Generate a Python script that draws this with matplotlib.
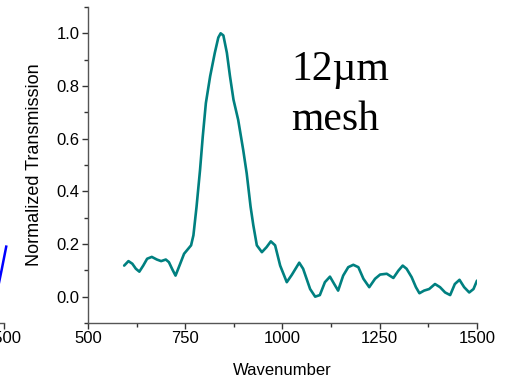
import numpy as np
import matplotlib.pyplot as plt
from matplotlib.ticker import MultipleLocator

# Espectro de transmissão da malha de 12 um
wavenumber = [593, 604, 614, 623, 632, 642, 652, 664, 677, 688, 700, 708, 717,
              725, 737, 747, 756, 765, 771, 779, 788, 795, 803, 814, 826, 835,
              841, 848, 857, 865, 874, 886, 899, 908, 918, 925, 934, 947, 959,
              970, 981, 994, 1011, 1024, 1043, 1053, 1071, 1084, 1096, 1109,
              1122, 1133, 1143, 1156, 1169, 1182, 1195, 1208, 1223, 1238, 1251,
              1268, 1285, 1298, 1309, 1319, 1332, 1343, 1352, 1364, 1377, 1392,
              1405, 1418, 1431, 1443, 1455, 1467, 1480, 1491, 1500]
transmission = [0.118, 0.135, 0.125, 0.106, 0.095, 0.118, 0.144, 0.151, 0.141,
                0.135, 0.141, 0.131, 0.103, 0.080, 0.125, 0.163, 0.179, 0.195,
                0.233, 0.341, 0.481, 0.608, 0.735, 0.837, 0.926, 0.984, 1.0,
                0.992, 0.926, 0.837, 0.748, 0.672, 0.557, 0.468, 0.341, 0.271,
                0.195, 0.169, 0.188, 0.210, 0.195, 0.118, 0.055, 0.083, 0.129,
                0.106, 0.029, 0.0, 0.006, 0.055, 0.076, 0.048, 0.023, 0.080,
                0.112, 0.121, 0.112, 0.068, 0.036, 0.068, 0.084, 0.087, 0.071,
                0.099, 0.118, 0.106, 0.074, 0.036, 0.013, 0.023, 0.029, 0.048,
                0.036, 0.016, 0.006, 0.048, 0.064, 0.036, 0.016, 0.029, 0.061]

# Fim da curva do painel vizinho (cortado)
wn_prev = [1488, 1495, 1503, 1507]
tr_prev = [0.05, 0.10, 0.16, 0.19]

plt.rcParams['font.family'] = ['Liberation Sans', 'DejaVu Sans']

W, H = 506, 380
fig = plt.figure(figsize=(W / 100, H / 100), dpi=100)

def estilo(ax):
    for s in ['top', 'right']:
        ax.spines[s].set_visible(False)
    for s in ['left', 'bottom']:
        ax.spines[s].set_color('#555555')
        ax.spines[s].set_linewidth(1.0)
    ax.set_xlim(500, 1500)
    ax.set_ylim(-0.1, 1.1)
    ax.xaxis.set_major_locator(MultipleLocator(250))
    ax.xaxis.set_minor_locator(MultipleLocator(125))
    ax.yaxis.set_major_locator(MultipleLocator(0.2))
    ax.yaxis.set_minor_locator(MultipleLocator(0.1))
    ax.tick_params(which='major', direction='out', length=4, width=1,
                   color='#333333', labelsize=12, pad=2)
    ax.tick_params(which='minor', direction='out', length=3, width=1,
                   color='#333333')
    ax.set_facecolor('none')

x0, x1, y0, y1 = 88, 477, 323, 7
pos = [x0 / W, (H - y0) / H, (x1 - x0) / W, (y0 - y1) / H]

# painel da esquerda, quase todo fora da figura
ax0 = fig.add_axes([(3.5 - (x1 - x0)) / W, pos[1], pos[2], pos[3]])
estilo(ax0)
ax0.set_yticks([])
ax0.yaxis.set_minor_locator(MultipleLocator(10))
ax0.spines['left'].set_visible(False)
ax0.plot(wn_prev, tr_prev, color='#0000ff', lw=1.8, clip_on=False)

ax = fig.add_axes(pos)
estilo(ax)
ax.yaxis.set_major_formatter(lambda v, p: f'{v:.1f}')
ax.plot(wavenumber, transmission, color='#008080', lw=1.9,
        solid_joinstyle='round', solid_capstyle='round')
ax.set_xlabel('Wavenumber', fontsize=12, labelpad=12)
ax.set_ylabel('Normalized Transmission', fontsize=13, labelpad=10)

fig.text(291 / W, 1 - 80 / H, '12\u00b5m', family='Liberation Serif',
         fontsize=30, va='baseline')
fig.text(291 / W, 1 - 130 / H, 'mesh', family='Liberation Serif',
         fontsize=30, va='baseline')

fig.savefig('out.png', dpi=100)
